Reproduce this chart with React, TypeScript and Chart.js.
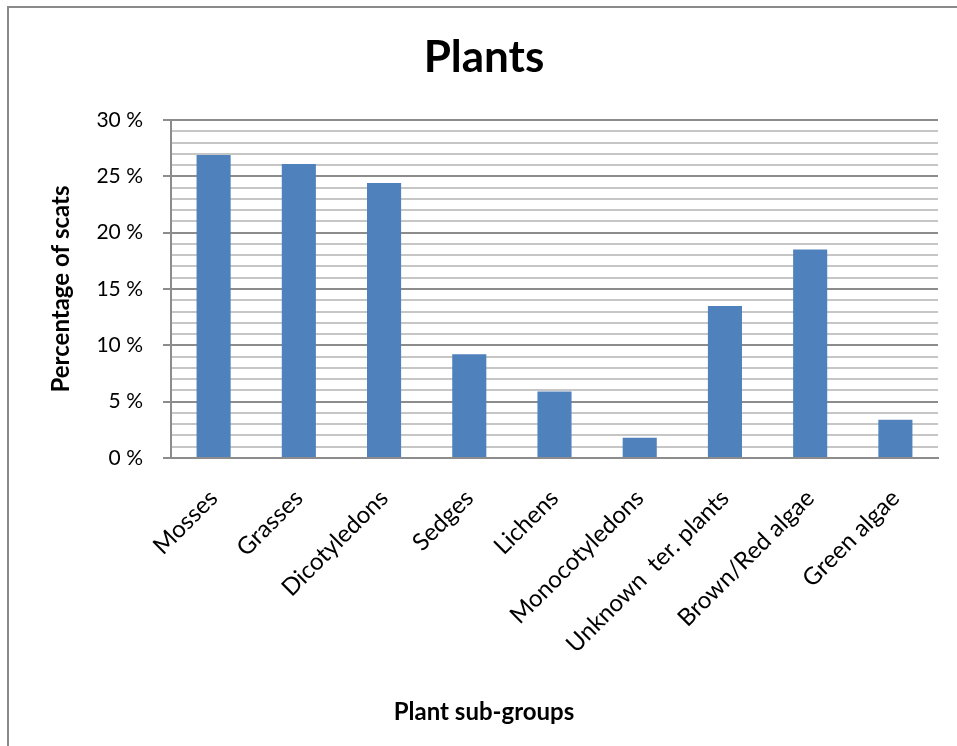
import React, { useEffect, useRef } from "react";
import { Chart, registerables } from "chart.js";

Chart.register(...registerables);

const categories = [
  "Mosses",
  "Grasses",
  "Dicotyledons",
  "Sedges",
  "Lichens",
  "Monocotyledons",
  "Unknown  ter. plants",
  "Brown/Red algae",
  "Green algae",
];

const percentOfScats = [26.9, 26.1, 24.4, 9.2, 5.9, 1.8, 13.5, 18.5, 3.4];

const yMin = 0;
const yMax = 30;
const yMajorStep = 5;

const chartTitle = "Plants";
const yTitle = "Percentage of scats";
const xTitle = "Plant sub-groups";

const FONT = "Lato, 'Open Sans', sans-serif";
const W = 957;
const H = 746;

const PAD_LEFT = 30;
const PAD_RIGHT = W - 938;
const PAD_BOTTOM = 19.6;
const PLOT_LEFT = 171;
const PLOT_BOTTOM = 458;
const SUB_SIZE = 24;

// Gray outline around the whole chart figure
const framePlugin = {
  id: "frame",
  beforeDraw(chart: Chart) {
    const ctx = chart.ctx;
    ctx.save();
    ctx.fillStyle = "#ffffff";
    ctx.fillRect(0, 0, chart.width, chart.height);
    ctx.strokeStyle = "#8a8a8a";
    ctx.lineWidth = 2;
    ctx.strokeRect(8, 7, chart.width + 20, chart.height + 20);
    ctx.restore();
  },
};

export default function App() {
  const canvasRef = useRef<HTMLCanvasElement | null>(null);

  useEffect(() => {
    document.body.style.margin = "0";
    const canvas = canvasRef.current;
    if (!canvas) return;

    const isMajor = (v: number) => Math.abs(v % yMajorStep) < 1e-9;

    const chart = new Chart(canvas, {
      type: "bar",
      data: {
        labels: categories,
        datasets: [
          {
            data: percentOfScats,
            backgroundColor: "#4f81bd",
            borderWidth: 0,
            categoryPercentage: 1,
            barPercentage: 0.4,
          },
        ],
      },
      plugins: [framePlugin],
      options: {
        responsive: false,
        animation: false,
        devicePixelRatio: 1,
        layout: {
          padding: { left: PAD_LEFT, right: PAD_RIGHT, top: 0, bottom: PAD_BOTTOM },
        },
        plugins: {
          legend: { display: false },
          tooltip: { enabled: false },
          title: {
            display: true,
            text: chartTitle,
            color: "#000000",
            font: { family: FONT, size: 44, weight: "bold", lineHeight: 1.2 },
            padding: { top: 31.6, bottom: 35.6 },
          },
          subtitle: {
            display: true,
            position: "bottom",
            text: xTitle,
            color: "#000000",
            font: { family: FONT, size: SUB_SIZE, weight: "bold", lineHeight: 1.2 },
            padding: { top: 0, bottom: 0 },
          },
        },
        scales: {
          x: {
            grid: { display: false },
            border: { display: true, color: "#8c8c8c", width: 2 },
            ticks: {
              color: "#000000",
              font: { family: FONT, size: 24 },
              minRotation: 45,
              maxRotation: 45,
              autoSkip: false,
              padding: 18,
            },
            afterFit(scale: any) {
              scale.height = H - PAD_BOTTOM - SUB_SIZE * 1.2 - PLOT_BOTTOM;
            },
          },
          y: {
            min: yMin,
            max: yMax,
            title: {
              display: true,
              text: yTitle,
              color: "#000000",
              font: { family: FONT, size: 24, weight: "bold", lineHeight: 1.2 },
              padding: { top: 16.6, bottom: 0 },
            },
            border: { display: true, color: "#8c8c8c", width: 2 },
            grid: {
              color: (ctx: any) =>
                ctx.tick && isMajor(ctx.tick.value) ? "#8c8c8c" : "#c6c6c6",
              lineWidth: 2,
              tickLength: 8,
              tickColor: (ctx: any) =>
                ctx.tick && isMajor(ctx.tick.value) ? "#8c8c8c" : "rgba(0,0,0,0)",
            },
            ticks: {
              stepSize: 1,
              autoSkip: false,
              color: "#000000",
              font: { family: FONT, size: 21 },
              padding: 20,
              callback: (v: any) => (isMajor(Number(v)) ? `${v} %` : ""),
            },
            afterFit(scale: any) {
              scale.width = PLOT_LEFT - PAD_LEFT;
            },
          },
        },
      },
    });

    return () => chart.destroy();
  }, []);

  return (
    <div style={{ width: W, height: H }}>
      <canvas ref={canvasRef} width={W} height={H} style={{ display: "block" }} />
    </div>
  );
}
